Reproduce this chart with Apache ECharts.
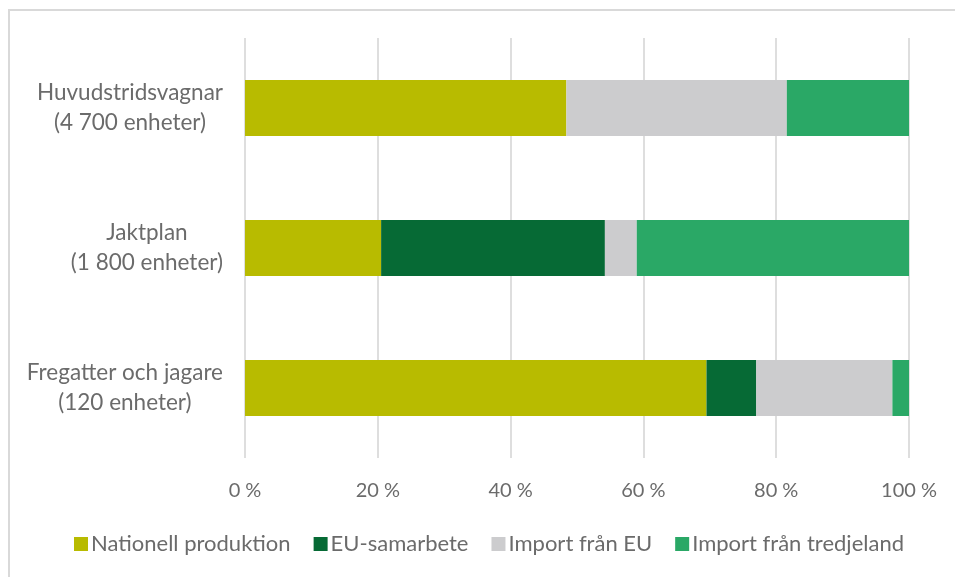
<!DOCTYPE html>
<html>
<head>
<meta charset="utf-8">
<script src="https://cdn.jsdelivr.net/npm/echarts@6/dist/echarts.min.js"></script>
<style>
  html, body { margin: 0; padding: 0; background: #ffffff; }
  #chart { width: 955px; height: 577px; }
</style>
</head>
<body>
<div id="chart"></div>
<script>
// Kategorier (uppifrån och ned)
const categories = ['Huvudstridsvagnar', 'Jaktplan', 'Fregatter och jagare'];
const units = ['(4 700 enheter)', '(1 800 enheter)', '(120 enheter)'];

// Andelar i procent per anskaffningsform
const nationell = [48.4, 20.5, 69.5];
const euSamarbete = [0, 33.7, 7.5];
const importEU = [33.2, 4.8, 20.5];
const importTredje = [18.4, 41.0, 2.5];

const seriesNames = ['Nationell produktion', 'EU-samarbete', 'Import från EU', 'Import från tredjeland'];
const seriesColors = ['#B8BB00', '#066A35', '#CCCCCE', '#2AA866'];
const tickValues = [0, 20, 40, 60, 80, 100];

const FONT = 'Lato, "Open Sans", sans-serif';
const TEXT = '#6b6b6b';

const chart = echarts.init(document.getElementById('chart'), null, { renderer: 'canvas' });

const seriesData = [nationell, euSamarbete, importEU, importTredje];

chart.setOption({
  animation: false,
  backgroundColor: '#ffffff',
  graphic: [{
    type: 'rect',
    shape: { x: 9, y: 10, width: 1000, height: 600 },
    style: { fill: 'none', stroke: '#d9d9d9', lineWidth: 2 },
    silent: true
  }],
  grid: { left: 245, right: 46, top: 38, bottom: 119, containLabel: false },
  legend: {
    bottom: 22,
    left: 74,
    padding: 0,
    itemWidth: 14,
    itemHeight: 14,
    itemGap: 23,
    icon: 'rect',
    textStyle: { color: TEXT, fontFamily: FONT, fontSize: 22, padding: [0, 0, 0, -2] },
    data: seriesNames
  },
  xAxis: {
    type: 'value',
    min: tickValues[0],
    max: tickValues[tickValues.length - 1],
    interval: 20,
    axisLine: { show: false },
    axisTick: { show: false },
    splitLine: { show: true, lineStyle: { color: '#dedede', width: 2 } },
    axisLabel: {
      color: TEXT, fontFamily: FONT, fontSize: 20, margin: 23,
      formatter: v => v + ' %'
    }
  },
  yAxis: {
    type: 'category',
    inverse: true,
    data: categories,
    axisLine: { show: false },
    axisTick: { show: false },
    axisLabel: {
      margin: 22,
      align: 'right',
      lineHeight: 30,
      formatter: (v, i) => '{a|' + v + '}\n{a|' + units[i] + '}',
      rich: {
        a: { align: 'center', color: TEXT, fontFamily: FONT, fontSize: 22.5, lineHeight: 30 }
      }
    }
  },
  series: seriesNames.map((name, k) => ({
    name: name,
    type: 'bar',
    stack: 'total',
    barWidth: '40%',
    itemStyle: { color: seriesColors[k] },
    data: seriesData[k]
  }))
});
</script>
</body>
</html>
